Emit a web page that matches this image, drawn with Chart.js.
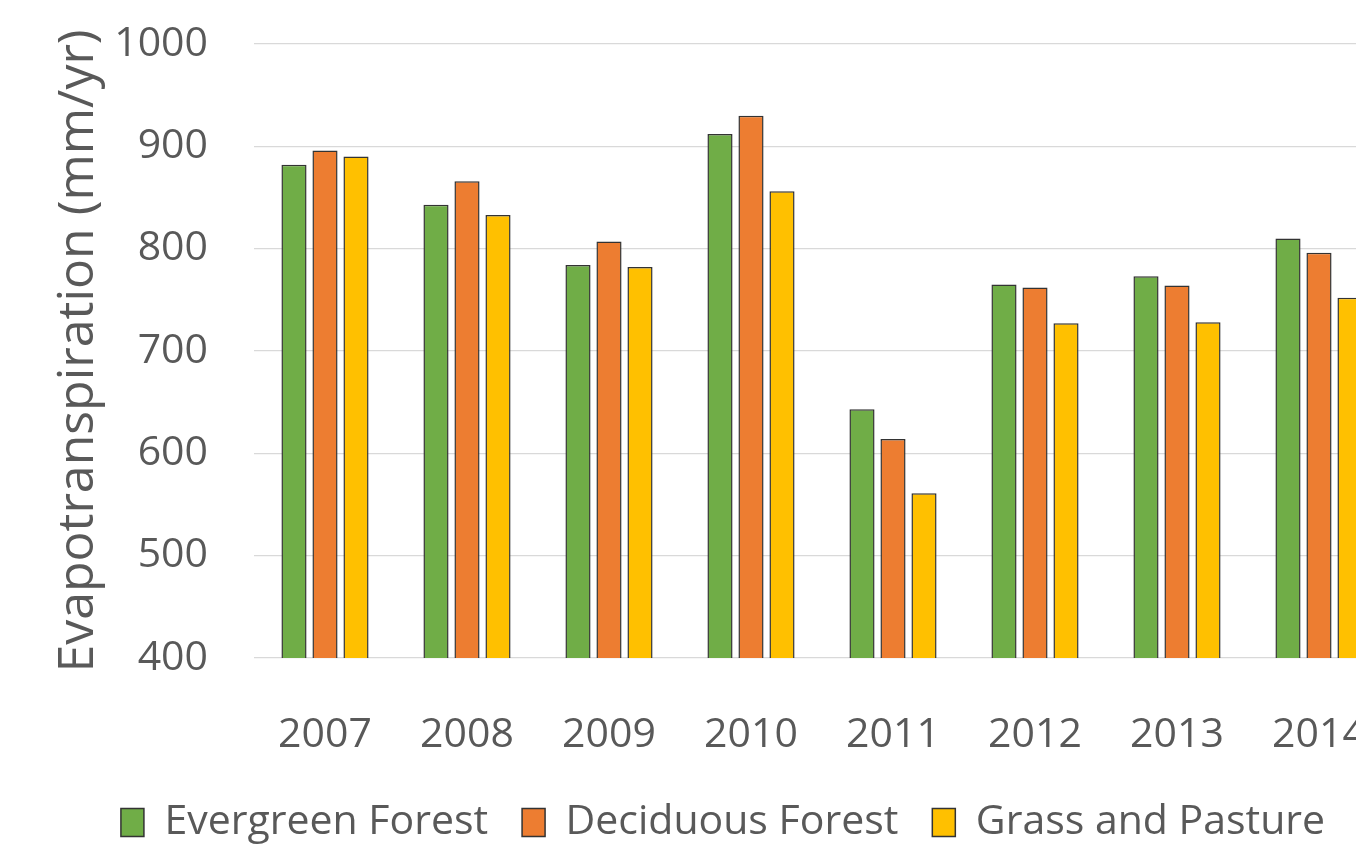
<!DOCTYPE html>
<html>
<head>
<meta charset="utf-8">
<script src="https://cdn.jsdelivr.net/npm/chart.js@4.4.1/dist/chart.umd.min.js"></script>
<style>
  html, body { margin: 0; padding: 0; overflow: hidden; background: #fff; }
  #wrap { width: 1479px; height: 850px; }
</style>
</head>
<body>
<div id="wrap"><canvas id="myChart" width="1479" height="850"></canvas></div>
<script>
const years = ['2007', '2008', '2009', '2010', '2011', '2012', '2013', '2014'];
const evergreen = [882, 843, 784, 912, 643, 765, 773, 810];
const deciduous = [896, 866, 807, 930, 614, 762, 764, 796];
const grass = [890, 833, 782, 856, 561, 727, 728, 752];
const yTicks = [400, 500, 600, 700, 800, 900, 1000];

const textColor = '#595959';
const fontFamily = '"Open Sans", sans-serif';

const makeSet = (label, data, color) => ({
  label: label,
  data: data,
  backgroundColor: color,
  borderColor: '#333333',
  borderWidth: 1.5,
  categoryPercentage: 0.655,
  barPercentage: 0.81,
});

const ctx = document.getElementById('myChart').getContext('2d');
const myChart = new Chart(ctx, {
  type: 'bar',
  data: {
    labels: years,
    datasets: [
      makeSet('Evergreen Forest', evergreen, '#70AD47'),
      makeSet('Deciduous Forest', deciduous, '#ED7D31'),
      makeSet('Grass and Pasture', grass, '#FFC000'),
    ],
  },
  options: {
    responsive: false,
    animation: false,
    layout: {
      padding: { top: 44, right: 89, left: 56, bottom: 0 },
    },
    plugins: {
      tooltip: { enabled: false },
      legend: {
        position: 'bottom',
        maxHeight: 82,
        labels: {
          color: textColor,
          font: { family: fontFamily, size: 41 },
          boxWidth: 23,
          boxHeight: 28,
          padding: 34,
        },
      },
    },
    scales: {
      y: {
        min: yTicks[0],
        max: yTicks[yTicks.length - 1],
        afterBuildTicks: (scale) => {
          scale.ticks = yTicks.map((v) => ({ value: v }));
        },
        afterFit: (scale) => {
          // tick padding is also added above/below the axis, drop that
          scale.width = 198;
          scale.paddingTop = 0;
          scale.paddingBottom = 0;
        },
        border: { display: false },
        grid: { color: '#d9d9d9', lineWidth: 1.3, drawTicks: false },
        ticks: {
          color: textColor,
          font: { family: fontFamily, size: 41 },
          padding: 46,
          callback: (value) => String(value),
        },
        title: {
          display: true,
          text: 'Evapotranspiration (mm/yr)',
          color: textColor,
          font: { family: fontFamily, size: 50, lineHeight: 0.9 },
          padding: { top: 0, bottom: 0 },
        },
      },
      x: {
        border: { display: false },
        grid: { display: false, drawTicks: false },
        afterFit: (scale) => {
          scale.height = 110;
        },
        ticks: {
          color: textColor,
          font: { family: fontFamily, size: 41 },
          padding: 53,
          maxRotation: 0,
        },
      },
    },
  },
});
</script>
</body>
</html>
